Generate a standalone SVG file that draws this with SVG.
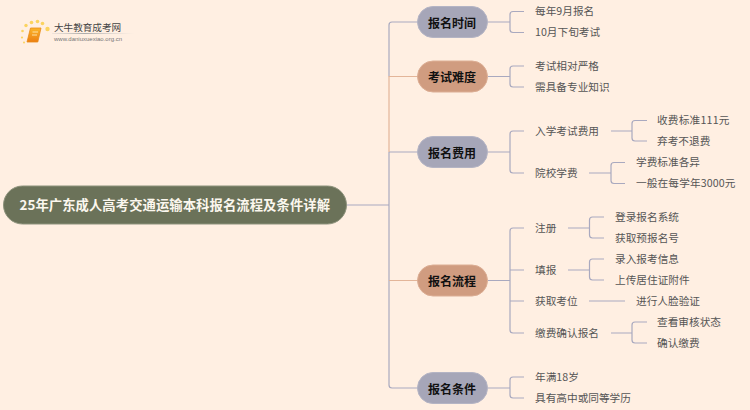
<svg xmlns="http://www.w3.org/2000/svg" width="750" height="410" viewBox="0 0 750 410">
<style>
text{font-family:"Noto Sans CJK SC","Liberation Sans",sans-serif}
.l{font-size:10.67px;fill:#555;dominant-baseline:central}
.n{font-size:12px;font-weight:700;fill:#111;text-anchor:middle;dominant-baseline:central}
.c{fill:none;stroke:#a9a9bf;stroke-width:1.2}
.t{fill:none;stroke:#e3b599;stroke-width:1.2}
.g{fill:#a6a6b8;stroke:#b4b4c4}
.o{fill:#d09c80;stroke:#dcae94}
</style>
<defs>
<linearGradient id="bk" x1="0" y1="0" x2="0" y2="1"><stop offset="0" stop-color="#fbb52a"/><stop offset="1" stop-color="#ec7f12"/></linearGradient>
<linearGradient id="ul" x1="0" y1="0" x2="1" y2="0"><stop offset="0" stop-color="#bbb" stop-opacity="0.2"/><stop offset="0.4" stop-color="#aaa"/><stop offset="1" stop-color="#ccc" stop-opacity="0"/></linearGradient>
</defs>
<rect width="750" height="410" fill="#ffefe2"/>
<g id="logo">
<g fill="#fbd35f"><circle cx="47.500" cy="29" r="2.200"/><circle cx="42.500" cy="23.500" r="1.800"/><circle cx="37.500" cy="21.500" r="1.800"/><circle cx="31.500" cy="22.500" r="1.800"/><circle cx="26" cy="25.500" r="1.700"/><circle cx="22.500" cy="31" r="1.300"/><circle cx="22" cy="37.500" r="1.100"/><circle cx="24" cy="42.500" r="1"/></g>
<path d="M30.500 28h10.500l-3.200 14h-10.800z" fill="url(#bk)" stroke="#e98a18" stroke-width="0.8" stroke-linejoin="round"/>
<path d="M32.500 32h5.500M32 35h5" stroke="#fff2c8" stroke-width="0.8"/>
<text x="54" y="27" font-size="9.600" fill="#444" dominant-baseline="central">大牛教育成考网</text>
<rect x="52" y="33" width="82" height="1" fill="url(#ul)"/>
<text x="54" y="38.500" font-size="6" fill="#777" dominant-baseline="central" style="font-family:'Liberation Sans',sans-serif">www.daniuxuexiao.org.cn</text>
</g>
<g id="connectors">
<path class="c" d="M347 205H389M418 22H392a3 3 0 0 0-3 3V76.500M389 152H418M389 152V385a3 3 0 0 0 3 3H418"/>
<path class="t" d="M389 152V79.500V76.500H418M389 280.500H418"/>
<path class="c" d="M488 22H510M524 11.500H513a3 3 0 0 0-3 3V29.500a3 3 0 0 0 3 3H524"/>
<path class="c" d="M488 76.500H510M524 66H513a3 3 0 0 0-3 3V84a3 3 0 0 0 3 3H524"/>
<path class="c" d="M488 152H510M524 131H513a3 3 0 0 0-3 3V170a3 3 0 0 0 3 3H524"/>
<path class="c" d="M488 280.500H510M524 228H513a3 3 0 0 0-3 3V330a3 3 0 0 0 3 3H524M510 270H524M510 301H524"/>
<path class="c" d="M488 388H510M524 377H513a3 3 0 0 0-3 3V395a3 3 0 0 0 3 3H524"/>
<path class="c" d="M611 131H632M647 120.500H635a3 3 0 0 0-3 3V138a3 3 0 0 0 3 3H647"/>
<path class="c" d="M589 173H611M625 162.500H614a3 3 0 0 0-3 3V180.500a3 3 0 0 0 3 3H625"/>
<path class="c" d="M568 228H589.500M604 217H592.500a3 3 0 0 0-3 3V235a3 3 0 0 0 3 3H604"/>
<path class="c" d="M568 270H589.500M604 259H592.500a3 3 0 0 0-3 3V277a3 3 0 0 0 3 3H604"/>
<path class="c" d="M589 301H625"/>
<path class="c" d="M611 333H632M647 322H635a3 3 0 0 0-3 3V340a3 3 0 0 0 3 3H647"/>
</g>
<g id="root"><rect x="3.500" y="186" width="343" height="38" rx="19" fill="#6b7259" stroke="#8d927c"/><text x="19.500" y="204.500" font-size="13.330" font-weight="700" fill="#fbf7ee" dominant-baseline="central" textLength="310.500">25年广东成人高考交通运输本科报名流程及条件详解</text></g>
<g id="n1"><rect class="g" x="417.500" y="6.500" width="70" height="31" rx="15.500"/><text class="n" x="452" y="22">报名时间</text></g>
<g id="n2"><rect class="o" x="417.500" y="61" width="70" height="31" rx="15.500"/><text class="n" x="452" y="76.500">考试难度</text></g>
<g id="n3"><rect class="g" x="417.500" y="136.500" width="70" height="31" rx="15.500"/><text class="n" x="452" y="152">报名费用</text></g>
<g id="n4"><rect class="o" x="417.500" y="265" width="70" height="31" rx="15.500"/><text class="n" x="452" y="280.500">报名流程</text></g>
<g id="n5"><rect class="g" x="417.500" y="372.500" width="70" height="31" rx="15.500"/><text class="n" x="452" y="388">报名条件</text></g>
<g id="l1"><text class="l" x="535" y="10.500">每年9月报名</text></g>
<g id="l2"><text class="l" x="535" y="31.500">10月下旬考试</text></g>
<g id="l3"><text class="l" x="535" y="65">考试相对严格</text></g>
<g id="l4"><text class="l" x="535" y="86">需具备专业知识</text></g>
<g id="l5"><text class="l" x="535" y="130">入学考试费用</text></g>
<g id="l6"><text class="l" x="535" y="172">院校学费</text></g>
<g id="l7"><text class="l" x="657" y="119.500" textLength="72.500">收费标准111元</text></g>
<g id="l8"><text class="l" x="657" y="140.500">弃考不退费</text></g>
<g id="l9"><text class="l" x="636" y="161.500">学费标准各异</text></g>
<g id="l10"><text class="l" x="636" y="182.500" textLength="99.500">一般在每学年3000元</text></g>
<g id="l11"><text class="l" x="535" y="227">注册</text></g>
<g id="l12"><text class="l" x="535" y="269">填报</text></g>
<g id="l13"><text class="l" x="535" y="300.500">获取考位</text></g>
<g id="l14"><text class="l" x="535" y="332">缴费确认报名</text></g>
<g id="l15"><text class="l" x="615" y="216">登录报名系统</text></g>
<g id="l16"><text class="l" x="615" y="237">获取预报名号</text></g>
<g id="l17"><text class="l" x="615" y="258">录入报考信息</text></g>
<g id="l18"><text class="l" x="615" y="279">上传居住证附件</text></g>
<g id="l19"><text class="l" x="636" y="300">进行人脸验证</text></g>
<g id="l20"><text class="l" x="657" y="321">查看审核状态</text></g>
<g id="l21"><text class="l" x="657" y="342">确认缴费</text></g>
<g id="l22"><text class="l" x="535" y="376">年满18岁</text></g>
<g id="l23"><text class="l" x="535" y="397">具有高中或同等学历</text></g>
</svg>
